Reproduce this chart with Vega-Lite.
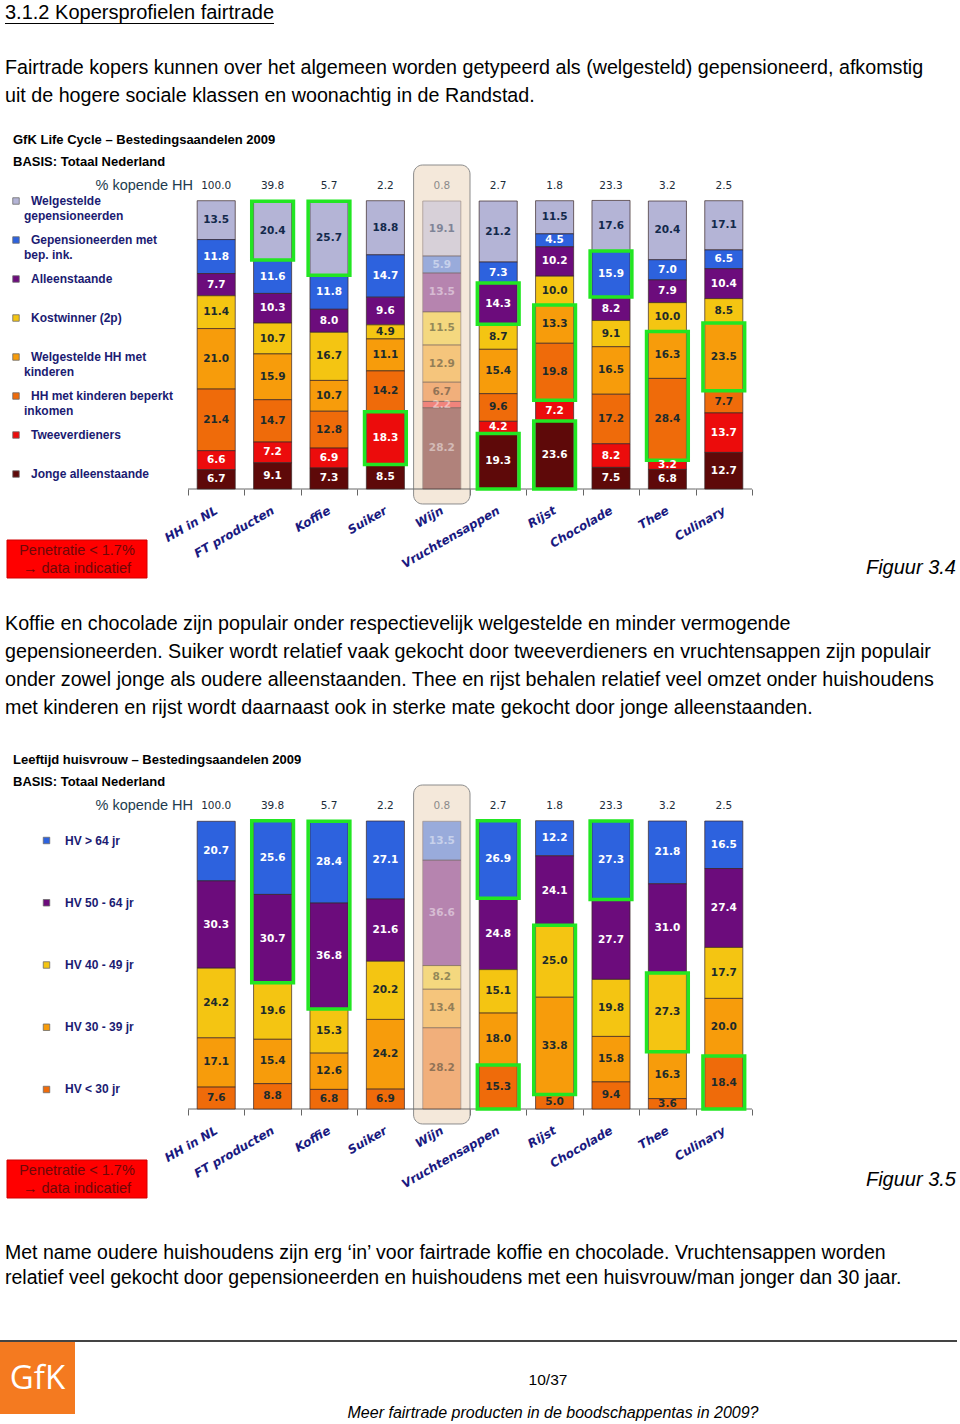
{
  "$schema": "https://vega.github.io/schema/vega-lite/v6.json",
  "padding": {"left": -4, "top": 0, "right": 0, "bottom": 0},
  "background": "#ffffff",
  "spacing": 0,
  "bounds": "flush",
  "config": {"view": {"stroke": null}},
  "resolve": {"scale": {"color": "independent", "x": "independent", "y": "independent"}},
  "datasets": {
    "prod": [
      {"product": "HH in NL", "pen": 100.0},
      {"product": "FT producten", "pen": 39.8},
      {"product": "Koffie", "pen": 5.7},
      {"product": "Suiker", "pen": 2.2},
      {"product": "Wijn", "pen": 0.8},
      {"product": "Vruchtensappen", "pen": 2.7},
      {"product": "Rijst", "pen": 1.8},
      {"product": "Chocolade", "pen": 23.3},
      {"product": "Thee", "pen": 3.2},
      {"product": "Culinary", "pen": 2.5}
    ],
    "leg1": [
      {"k": 1, "seg": "Welgestelde gepensioneerden", "l1": "Welgestelde", "l2": "gepensioneerden"},
      {"k": 2, "seg": "Gepensioneerden met bep. ink.", "l1": "Gepensioneerden met", "l2": "bep. ink."},
      {"k": 3, "seg": "Alleenstaande", "l1": "Alleenstaande", "l2": ""},
      {"k": 4, "seg": "Kostwinner (2p)", "l1": "Kostwinner (2p)", "l2": ""},
      {"k": 5, "seg": "Welgestelde HH met kinderen", "l1": "Welgestelde HH met", "l2": "kinderen"},
      {"k": 6, "seg": "HH met kinderen beperkt inkomen", "l1": "HH met kinderen beperkt", "l2": "inkomen"},
      {"k": 7, "seg": "Tweeverdieners", "l1": "Tweeverdieners", "l2": ""},
      {"k": 8, "seg": "Jonge alleenstaande", "l1": "Jonge alleenstaande", "l2": ""}
    ],
    "leg2": [
      {"k": 1, "seg": "HV > 64 jr"},
      {"k": 2, "seg": "HV 50 - 64 jr"},
      {"k": 3, "seg": "HV 40 - 49 jr"},
      {"k": 4, "seg": "HV 30 - 39 jr"},
      {"k": 5, "seg": "HV < 30 jr"}
    ],
    "lc": [
      {"product": "HH in NL", "k": 1, "seg": "Welgestelde gepensioneerden", "value": 13.5},
      {"product": "HH in NL", "k": 2, "seg": "Gepensioneerden met bep. ink.", "value": 11.8},
      {"product": "HH in NL", "k": 3, "seg": "Alleenstaande", "value": 7.7},
      {"product": "HH in NL", "k": 4, "seg": "Kostwinner (2p)", "value": 11.4},
      {"product": "HH in NL", "k": 5, "seg": "Welgestelde HH met kinderen", "value": 21.0},
      {"product": "HH in NL", "k": 6, "seg": "HH met kinderen beperkt inkomen", "value": 21.4},
      {"product": "HH in NL", "k": 7, "seg": "Tweeverdieners", "value": 6.6},
      {"product": "HH in NL", "k": 8, "seg": "Jonge alleenstaande", "value": 6.7},
      {"product": "FT producten", "k": 1, "seg": "Welgestelde gepensioneerden", "value": 20.4, "box": "a"},
      {"product": "FT producten", "k": 2, "seg": "Gepensioneerden met bep. ink.", "value": 11.6},
      {"product": "FT producten", "k": 3, "seg": "Alleenstaande", "value": 10.3},
      {"product": "FT producten", "k": 4, "seg": "Kostwinner (2p)", "value": 10.7},
      {"product": "FT producten", "k": 5, "seg": "Welgestelde HH met kinderen", "value": 15.9},
      {"product": "FT producten", "k": 6, "seg": "HH met kinderen beperkt inkomen", "value": 14.7},
      {"product": "FT producten", "k": 7, "seg": "Tweeverdieners", "value": 7.2},
      {"product": "FT producten", "k": 8, "seg": "Jonge alleenstaande", "value": 9.1},
      {"product": "Koffie", "k": 1, "seg": "Welgestelde gepensioneerden", "value": 25.7, "box": "a"},
      {"product": "Koffie", "k": 2, "seg": "Gepensioneerden met bep. ink.", "value": 11.8},
      {"product": "Koffie", "k": 3, "seg": "Alleenstaande", "value": 8.0},
      {"product": "Koffie", "k": 4, "seg": "Kostwinner (2p)", "value": 16.7},
      {"product": "Koffie", "k": 5, "seg": "Welgestelde HH met kinderen", "value": 10.7},
      {"product": "Koffie", "k": 6, "seg": "HH met kinderen beperkt inkomen", "value": 12.8},
      {"product": "Koffie", "k": 7, "seg": "Tweeverdieners", "value": 6.9},
      {"product": "Koffie", "k": 8, "seg": "Jonge alleenstaande", "value": 7.3},
      {"product": "Suiker", "k": 1, "seg": "Welgestelde gepensioneerden", "value": 18.8},
      {"product": "Suiker", "k": 2, "seg": "Gepensioneerden met bep. ink.", "value": 14.7},
      {"product": "Suiker", "k": 3, "seg": "Alleenstaande", "value": 9.6},
      {"product": "Suiker", "k": 4, "seg": "Kostwinner (2p)", "value": 4.9},
      {"product": "Suiker", "k": 5, "seg": "Welgestelde HH met kinderen", "value": 11.1},
      {"product": "Suiker", "k": 6, "seg": "HH met kinderen beperkt inkomen", "value": 14.2},
      {"product": "Suiker", "k": 7, "seg": "Tweeverdieners", "value": 18.3, "box": "a"},
      {"product": "Suiker", "k": 8, "seg": "Jonge alleenstaande", "value": 8.5},
      {"product": "Wijn", "k": 1, "seg": "Welgestelde gepensioneerden", "value": 19.1},
      {"product": "Wijn", "k": 2, "seg": "Gepensioneerden met bep. ink.", "value": 5.9},
      {"product": "Wijn", "k": 3, "seg": "Alleenstaande", "value": 13.5},
      {"product": "Wijn", "k": 4, "seg": "Kostwinner (2p)", "value": 11.5},
      {"product": "Wijn", "k": 5, "seg": "Welgestelde HH met kinderen", "value": 12.9},
      {"product": "Wijn", "k": 6, "seg": "HH met kinderen beperkt inkomen", "value": 6.7},
      {"product": "Wijn", "k": 7, "seg": "Tweeverdieners", "value": 2.2},
      {"product": "Wijn", "k": 8, "seg": "Jonge alleenstaande", "value": 28.2},
      {"product": "Vruchtensappen", "k": 1, "seg": "Welgestelde gepensioneerden", "value": 21.2},
      {"product": "Vruchtensappen", "k": 2, "seg": "Gepensioneerden met bep. ink.", "value": 7.3},
      {"product": "Vruchtensappen", "k": 3, "seg": "Alleenstaande", "value": 14.3, "box": "a"},
      {"product": "Vruchtensappen", "k": 4, "seg": "Kostwinner (2p)", "value": 8.7},
      {"product": "Vruchtensappen", "k": 5, "seg": "Welgestelde HH met kinderen", "value": 15.4},
      {"product": "Vruchtensappen", "k": 6, "seg": "HH met kinderen beperkt inkomen", "value": 9.6},
      {"product": "Vruchtensappen", "k": 7, "seg": "Tweeverdieners", "value": 4.2},
      {"product": "Vruchtensappen", "k": 8, "seg": "Jonge alleenstaande", "value": 19.3, "box": "b"},
      {"product": "Rijst", "k": 1, "seg": "Welgestelde gepensioneerden", "value": 11.5},
      {"product": "Rijst", "k": 2, "seg": "Gepensioneerden met bep. ink.", "value": 4.5},
      {"product": "Rijst", "k": 3, "seg": "Alleenstaande", "value": 10.2},
      {"product": "Rijst", "k": 4, "seg": "Kostwinner (2p)", "value": 10.0},
      {"product": "Rijst", "k": 5, "seg": "Welgestelde HH met kinderen", "value": 13.3, "box": "a"},
      {"product": "Rijst", "k": 6, "seg": "HH met kinderen beperkt inkomen", "value": 19.8, "box": "a"},
      {"product": "Rijst", "k": 7, "seg": "Tweeverdieners", "value": 7.2},
      {"product": "Rijst", "k": 8, "seg": "Jonge alleenstaande", "value": 23.6, "box": "b"},
      {"product": "Chocolade", "k": 1, "seg": "Welgestelde gepensioneerden", "value": 17.6},
      {"product": "Chocolade", "k": 2, "seg": "Gepensioneerden met bep. ink.", "value": 15.9, "box": "a"},
      {"product": "Chocolade", "k": 3, "seg": "Alleenstaande", "value": 8.2},
      {"product": "Chocolade", "k": 4, "seg": "Kostwinner (2p)", "value": 9.1},
      {"product": "Chocolade", "k": 5, "seg": "Welgestelde HH met kinderen", "value": 16.5},
      {"product": "Chocolade", "k": 6, "seg": "HH met kinderen beperkt inkomen", "value": 17.2},
      {"product": "Chocolade", "k": 7, "seg": "Tweeverdieners", "value": 8.2},
      {"product": "Chocolade", "k": 8, "seg": "Jonge alleenstaande", "value": 7.5},
      {"product": "Thee", "k": 1, "seg": "Welgestelde gepensioneerden", "value": 20.4},
      {"product": "Thee", "k": 2, "seg": "Gepensioneerden met bep. ink.", "value": 7.0},
      {"product": "Thee", "k": 3, "seg": "Alleenstaande", "value": 7.9},
      {"product": "Thee", "k": 4, "seg": "Kostwinner (2p)", "value": 10.0},
      {"product": "Thee", "k": 5, "seg": "Welgestelde HH met kinderen", "value": 16.3, "box": "a"},
      {"product": "Thee", "k": 6, "seg": "HH met kinderen beperkt inkomen", "value": 28.4, "box": "a"},
      {"product": "Thee", "k": 7, "seg": "Tweeverdieners", "value": 3.2},
      {"product": "Thee", "k": 8, "seg": "Jonge alleenstaande", "value": 6.8},
      {"product": "Culinary", "k": 1, "seg": "Welgestelde gepensioneerden", "value": 17.1},
      {"product": "Culinary", "k": 2, "seg": "Gepensioneerden met bep. ink.", "value": 6.5},
      {"product": "Culinary", "k": 3, "seg": "Alleenstaande", "value": 10.4},
      {"product": "Culinary", "k": 4, "seg": "Kostwinner (2p)", "value": 8.5},
      {"product": "Culinary", "k": 5, "seg": "Welgestelde HH met kinderen", "value": 23.5, "box": "a"},
      {"product": "Culinary", "k": 6, "seg": "HH met kinderen beperkt inkomen", "value": 7.7},
      {"product": "Culinary", "k": 7, "seg": "Tweeverdieners", "value": 13.7},
      {"product": "Culinary", "k": 8, "seg": "Jonge alleenstaande", "value": 12.7}
    ],
    "lh": [
      {"product": "HH in NL", "k": 1, "seg": "HV > 64 jr", "value": 20.7},
      {"product": "HH in NL", "k": 2, "seg": "HV 50 - 64 jr", "value": 30.3},
      {"product": "HH in NL", "k": 3, "seg": "HV 40 - 49 jr", "value": 24.2},
      {"product": "HH in NL", "k": 4, "seg": "HV 30 - 39 jr", "value": 17.1},
      {"product": "HH in NL", "k": 5, "seg": "HV < 30 jr", "value": 7.6},
      {"product": "FT producten", "k": 1, "seg": "HV > 64 jr", "value": 25.6, "box": "a"},
      {"product": "FT producten", "k": 2, "seg": "HV 50 - 64 jr", "value": 30.7, "box": "a"},
      {"product": "FT producten", "k": 3, "seg": "HV 40 - 49 jr", "value": 19.6},
      {"product": "FT producten", "k": 4, "seg": "HV 30 - 39 jr", "value": 15.4},
      {"product": "FT producten", "k": 5, "seg": "HV < 30 jr", "value": 8.8},
      {"product": "Koffie", "k": 1, "seg": "HV > 64 jr", "value": 28.4, "box": "a"},
      {"product": "Koffie", "k": 2, "seg": "HV 50 - 64 jr", "value": 36.8, "box": "a"},
      {"product": "Koffie", "k": 3, "seg": "HV 40 - 49 jr", "value": 15.3},
      {"product": "Koffie", "k": 4, "seg": "HV 30 - 39 jr", "value": 12.6},
      {"product": "Koffie", "k": 5, "seg": "HV < 30 jr", "value": 6.8},
      {"product": "Suiker", "k": 1, "seg": "HV > 64 jr", "value": 27.1},
      {"product": "Suiker", "k": 2, "seg": "HV 50 - 64 jr", "value": 21.6},
      {"product": "Suiker", "k": 3, "seg": "HV 40 - 49 jr", "value": 20.2},
      {"product": "Suiker", "k": 4, "seg": "HV 30 - 39 jr", "value": 24.2},
      {"product": "Suiker", "k": 5, "seg": "HV < 30 jr", "value": 6.9},
      {"product": "Wijn", "k": 1, "seg": "HV > 64 jr", "value": 13.5},
      {"product": "Wijn", "k": 2, "seg": "HV 50 - 64 jr", "value": 36.6},
      {"product": "Wijn", "k": 3, "seg": "HV 40 - 49 jr", "value": 8.2},
      {"product": "Wijn", "k": 4, "seg": "HV 30 - 39 jr", "value": 13.4},
      {"product": "Wijn", "k": 5, "seg": "HV < 30 jr", "value": 28.2},
      {"product": "Vruchtensappen", "k": 1, "seg": "HV > 64 jr", "value": 26.9, "box": "a"},
      {"product": "Vruchtensappen", "k": 2, "seg": "HV 50 - 64 jr", "value": 24.8},
      {"product": "Vruchtensappen", "k": 3, "seg": "HV 40 - 49 jr", "value": 15.1},
      {"product": "Vruchtensappen", "k": 4, "seg": "HV 30 - 39 jr", "value": 18.0},
      {"product": "Vruchtensappen", "k": 5, "seg": "HV < 30 jr", "value": 15.3, "box": "b"},
      {"product": "Rijst", "k": 1, "seg": "HV > 64 jr", "value": 12.2},
      {"product": "Rijst", "k": 2, "seg": "HV 50 - 64 jr", "value": 24.1},
      {"product": "Rijst", "k": 3, "seg": "HV 40 - 49 jr", "value": 25.0, "box": "a"},
      {"product": "Rijst", "k": 4, "seg": "HV 30 - 39 jr", "value": 33.8, "box": "a"},
      {"product": "Rijst", "k": 5, "seg": "HV < 30 jr", "value": 5.0},
      {"product": "Chocolade", "k": 1, "seg": "HV > 64 jr", "value": 27.3, "box": "a"},
      {"product": "Chocolade", "k": 2, "seg": "HV 50 - 64 jr", "value": 27.7},
      {"product": "Chocolade", "k": 3, "seg": "HV 40 - 49 jr", "value": 19.8},
      {"product": "Chocolade", "k": 4, "seg": "HV 30 - 39 jr", "value": 15.8},
      {"product": "Chocolade", "k": 5, "seg": "HV < 30 jr", "value": 9.4},
      {"product": "Thee", "k": 1, "seg": "HV > 64 jr", "value": 21.8},
      {"product": "Thee", "k": 2, "seg": "HV 50 - 64 jr", "value": 31.0},
      {"product": "Thee", "k": 3, "seg": "HV 40 - 49 jr", "value": 27.3, "box": "a"},
      {"product": "Thee", "k": 4, "seg": "HV 30 - 39 jr", "value": 16.3},
      {"product": "Thee", "k": 5, "seg": "HV < 30 jr", "value": 3.6},
      {"product": "Culinary", "k": 1, "seg": "HV > 64 jr", "value": 16.5},
      {"product": "Culinary", "k": 2, "seg": "HV 50 - 64 jr", "value": 27.4},
      {"product": "Culinary", "k": 3, "seg": "HV 40 - 49 jr", "value": 17.7},
      {"product": "Culinary", "k": 4, "seg": "HV 30 - 39 jr", "value": 20.0},
      {"product": "Culinary", "k": 5, "seg": "HV < 30 jr", "value": 18.4, "box": "a"}
    ]
  },
  "vconcat": [
    {
      "width": 960, "height": 201,
      "layer": [
        {"data": {"values": [{"t": "3.1.2 Kopersprofielen fairtrade"}]},
         "mark": {"type": "text", "align": "left", "baseline": "alphabetic", "font": "Liberation Sans", "fontSize": 20, "color": "#000000"},
         "encoding": {"text": {"field": "t"}, "x": {"value": 5}, "y": {"value": 19}}},
        {"data": {"values": [{}]},
         "mark": {"type": "rect", "fill": "#000000"},
         "encoding": {"x": {"value": 5}, "x2": {"value": 274}, "y": {"value": 23}, "y2": {"value": 24}}},
        {"data": {"values": [{"t": "Fairtrade kopers kunnen over het algemeen worden getypeerd als (welgesteld) gepensioneerd, afkomstig\nuit de hogere sociale klassen en woonachtig in de Randstad."}]},
         "mark": {"type": "text", "align": "left", "baseline": "alphabetic", "lineBreak": "\n", "lineHeight": 28, "font": "Liberation Sans", "fontSize": 19.7, "color": "#000000"},
         "encoding": {"text": {"field": "t"}, "x": {"value": 5}, "y": {"value": 74}}},
        {"data": {"values": [{"t": "GfK Life Cycle \u2013 Bestedingsaandelen 2009\nBASIS: Totaal Nederland"}]},
         "mark": {"type": "text", "align": "left", "baseline": "alphabetic", "lineBreak": "\n", "lineHeight": 22, "font": "Liberation Sans", "fontWeight": "bold", "fontSize": 13, "color": "#000000"},
         "encoding": {"text": {"field": "t"}, "x": {"value": 13}, "y": {"value": 143.6}}},
        {"data": {"values": [{"t": "% kopende HH"}]},
         "mark": {"type": "text", "align": "right", "baseline": "middle", "font": "Liberation Sans", "fontSize": 14.5, "color": "#223c4e"},
         "encoding": {"text": {"field": "t"}, "x": {"value": 193}, "y": {"value": 186}}}
      ]
    },
    {
      "width": 752, "height": 288,
      "encoding": {"x": {"field": "product", "type": "nominal",
                         "sort": ["HH in NL", "FT producten", "Koffie", "Suiker", "Wijn", "Vruchtensappen", "Rijst", "Chocolade", "Thee", "Culinary"],
                         "scale": {"paddingInner": 0, "paddingOuter": 0, "range": [188, 752]},
                         "axis": {"title": null, "domain": false, "tickColor": "#666666", "tickSize": 6, "tickBand": "extent",
                                  "labelAngle": -30, "labelAlign": "right", "labelBaseline": "middle", "labelPadding": 14,
                                  "labelFont": "DejaVu Sans", "labelFontSize": 12, "labelFontWeight": "bold", "labelFontStyle": "italic",
                                  "labelColor": "#1a1a80", "labelOverlap": false}}},
      "layer": [
        {"data": {"name": "prod"},
         "transform": [{"filter": "datum.pen < 1.7"}],
         "mark": {"type": "bar", "width": {"band": 1}, "cornerRadius": 9, "fill": "#f4e8da", "stroke": "#8c8c8c", "strokeWidth": 1},
         "encoding": {"y": {"datum": 112.5, "type": "quantitative", "scale": {"domain": [0, 100], "nice": false, "zero": false}, "axis": null}, "y2": {"datum": -5.2}}},
        {"data": {"name": "prod"},
         "mark": {"type": "rule", "color": "#666666", "strokeWidth": 1},
         "encoding": {"x": {"field": "product", "type": "nominal", "bandPosition": 0}, "x2": {"field": "product", "bandPosition": 1},
                      "y": {"datum": 0, "type": "quantitative", "scale": {"domain": [0, 100], "nice": false, "zero": false}, "axis": null}}},
        {"data": {"name": "lc"},
         "transform": [
           {"lookup": "product", "from": {"data": {"name": "prod"}, "key": "product", "fields": ["pen"]}},
           {"stack": "value", "groupby": ["product"], "sort": [{"field": "k", "order": "descending"}], "as": ["y0", "y1"]},
           {"calculate": "(datum.y0 + datum.y1) / 2", "as": "ym"}
         ],
         "layer": [
           {"mark": {"type": "bar", "width": {"band": 0.675}, "stroke": "#3a2626", "strokeWidth": 0.7},
            "encoding": {"y": {"field": "y0", "type": "quantitative", "scale": {"domain": [0, 100], "nice": false, "zero": false}, "axis": null}, "y2": {"field": "y1"},
                         "color": {"field": "seg", "type": "nominal", "legend": null,
                                   "scale": {"domain": ["Welgestelde gepensioneerden", "Gepensioneerden met bep. ink.", "Alleenstaande", "Kostwinner (2p)", "Welgestelde HH met kinderen", "HH met kinderen beperkt inkomen", "Tweeverdieners", "Jonge alleenstaande"],
                                             "range": ["#b4b4d6", "#2d62de", "#6c0c7c", "#f4c512", "#f79c0b", "#ef6b0a", "#ec0c0c", "#5e0909"]}},
                         "opacity": {"condition": {"test": "datum.pen < 1.7", "value": 0.45}, "value": 1}}},
           {"transform": [{"filter": "datum.box"}, {"aggregate": [{"op": "min", "field": "y0", "as": "lo"}, {"op": "max", "field": "y1", "as": "hi"}], "groupby": ["product", "box"]}],
            "mark": {"type": "bar", "width": {"band": 0.74}, "fillOpacity": 0, "stroke": "#22e622", "strokeWidth": 3.5},
            "encoding": {"y": {"field": "lo", "type": "quantitative", "axis": null}, "y2": {"field": "hi"}}},
           {"mark": {"type": "text", "baseline": "middle", "font": "DejaVu Sans", "fontWeight": "bold", "fontSize": 10.5},
            "encoding": {"y": {"field": "ym", "type": "quantitative", "axis": null},
                         "text": {"field": "value", "type": "quantitative", "format": ".1f"},
                         "color": {"field": "seg", "type": "nominal", "legend": null,
                                   "scale": {"domain": ["Welgestelde gepensioneerden", "Gepensioneerden met bep. ink.", "Alleenstaande", "Kostwinner (2p)", "Welgestelde HH met kinderen", "HH met kinderen beperkt inkomen", "Tweeverdieners", "Jonge alleenstaande"],
                                             "range": ["#13294b", "#ffffff", "#ffffff", "#1d2b2b", "#1d2b2b", "#1d2b2b", "#ffffff", "#ffffff"]}},
                         "opacity": {"condition": {"test": "datum.pen < 1.7", "value": 0.45}, "value": 1}}}
         ],
         "resolve": {"scale": {"color": "independent"}}},
        {"data": {"name": "prod"},
         "mark": {"type": "text", "baseline": "middle", "font": "DejaVu Sans", "fontSize": 10.5, "color": "#1c2b3a"},
         "encoding": {"y": {"datum": 105.2, "type": "quantitative", "scale": {"domain": [0, 100], "nice": false, "zero": false}, "axis": null},
                      "text": {"field": "pen", "type": "quantitative", "format": ".1f"},
                      "opacity": {"condition": {"test": "datum.pen < 1.7", "value": 0.5}, "value": 1}}},
        {"data": {"name": "leg1"},
         "encoding": {"y": {"field": "k", "type": "ordinal", "scale": {"type": "point", "padding": 0.1923, "align": 0}, "axis": null}},
         "layer": [
           {"mark": {"type": "square", "size": 42, "filled": true, "opacity": 1, "stroke": "#6b6b6b", "strokeWidth": 0.8},
            "encoding": {"x": {"value": 16},
                         "color": {"field": "seg", "type": "nominal", "legend": null,
                                   "scale": {"domain": ["Welgestelde gepensioneerden", "Gepensioneerden met bep. ink.", "Alleenstaande", "Kostwinner (2p)", "Welgestelde HH met kinderen", "HH met kinderen beperkt inkomen", "Tweeverdieners", "Jonge alleenstaande"],
                                             "range": ["#b4b4d6", "#2d62de", "#6c0c7c", "#f4c512", "#f79c0b", "#ef6b0a", "#ec0c0c", "#5e0909"]}}}},
           {"mark": {"type": "text", "align": "left", "baseline": "middle", "font": "Liberation Sans", "fontWeight": "bold", "fontSize": 12, "color": "#1b1b72"},
            "encoding": {"x": {"value": 31}, "text": {"field": "l1"}}},
           {"mark": {"type": "text", "align": "left", "baseline": "middle", "dy": 15, "font": "Liberation Sans", "fontWeight": "bold", "fontSize": 12, "color": "#1b1b72"},
            "encoding": {"x": {"value": 24}, "text": {"field": "l2"}}}
         ]}
      ],
      "resolve": {"scale": {"y": "independent", "color": "independent"}}
    },
    {
      "width": 960, "height": 332,
      "layer": [
        {"data": {"values": [{}]},
         "mark": {"type": "rect", "fill": "#ff0000", "stroke": "#d00000", "strokeWidth": 1},
         "encoding": {"x": {"value": 7}, "x2": {"value": 147}, "y": {"value": 51}, "y2": {"value": 89}}},
        {"data": {"values": [{"t": "Penetratie < 1.7%\n\u2192 data indicatief"}]},
         "mark": {"type": "text", "align": "center", "baseline": "alphabetic", "lineBreak": "\n", "lineHeight": 18, "font": "Liberation Sans", "fontSize": 14.5, "color": "#6e0808"},
         "encoding": {"text": {"field": "t"}, "x": {"value": 77}, "y": {"value": 66}}},
        {"data": {"values": [{"t": "Figuur 3.4"}]},
         "mark": {"type": "text", "align": "right", "baseline": "middle", "font": "Liberation Sans", "fontStyle": "italic", "fontSize": 20, "color": "#000000"},
         "encoding": {"text": {"field": "t"}, "x": {"value": 956}, "y": {"value": 79}}},
        {"data": {"values": [{"t": "Koffie en chocolade zijn populair onder respectievelijk welgestelde en minder vermogende\ngepensioneerden. Suiker wordt relatief vaak gekocht door tweeverdieners en vruchtensappen zijn populair\nonder zowel jonge als oudere alleenstaanden. Thee en rijst behalen relatief veel omzet onder huishoudens\nmet kinderen en rijst wordt daarnaast ook in sterke mate gekocht door jonge alleenstaanden."}]},
         "mark": {"type": "text", "align": "left", "baseline": "alphabetic", "lineBreak": "\n", "lineHeight": 28, "font": "Liberation Sans", "fontSize": 19.7, "color": "#000000"},
         "encoding": {"text": {"field": "t"}, "x": {"value": 5}, "y": {"value": 141}}},
        {"data": {"values": [{"t": "Leeftijd huisvrouw \u2013 Bestedingsaandelen 2009\nBASIS: Totaal Nederland"}]},
         "mark": {"type": "text", "align": "left", "baseline": "alphabetic", "lineBreak": "\n", "lineHeight": 22, "font": "Liberation Sans", "fontWeight": "bold", "fontSize": 13, "color": "#000000"},
         "encoding": {"text": {"field": "t"}, "x": {"value": 13}, "y": {"value": 274.6}}},
        {"data": {"values": [{"t": "% kopende HH"}]},
         "mark": {"type": "text", "align": "right", "baseline": "middle", "font": "Liberation Sans", "fontSize": 14.5, "color": "#223c4e"},
         "encoding": {"text": {"field": "t"}, "x": {"value": 193}, "y": {"value": 317}}}
      ]
    },
    {
      "width": 752, "height": 288,
      "encoding": {"x": {"field": "product", "type": "nominal",
                         "sort": ["HH in NL", "FT producten", "Koffie", "Suiker", "Wijn", "Vruchtensappen", "Rijst", "Chocolade", "Thee", "Culinary"],
                         "scale": {"paddingInner": 0, "paddingOuter": 0, "range": [188, 752]},
                         "axis": {"title": null, "domain": false, "tickColor": "#666666", "tickSize": 6, "tickBand": "extent",
                                  "labelAngle": -30, "labelAlign": "right", "labelBaseline": "middle", "labelPadding": 14,
                                  "labelFont": "DejaVu Sans", "labelFontSize": 12, "labelFontWeight": "bold", "labelFontStyle": "italic",
                                  "labelColor": "#1a1a80", "labelOverlap": false}}},
      "layer": [
        {"data": {"name": "prod"},
         "transform": [{"filter": "datum.pen < 1.7"}],
         "mark": {"type": "bar", "width": {"band": 1}, "cornerRadius": 9, "fill": "#f4e8da", "stroke": "#8c8c8c", "strokeWidth": 1},
         "encoding": {"y": {"datum": 112.5, "type": "quantitative", "scale": {"domain": [0, 100], "nice": false, "zero": false}, "axis": null}, "y2": {"datum": -5.2}}},
        {"data": {"name": "prod"},
         "mark": {"type": "rule", "color": "#666666", "strokeWidth": 1},
         "encoding": {"x": {"field": "product", "type": "nominal", "bandPosition": 0}, "x2": {"field": "product", "bandPosition": 1},
                      "y": {"datum": 0, "type": "quantitative", "scale": {"domain": [0, 100], "nice": false, "zero": false}, "axis": null}}},
        {"data": {"name": "lh"},
         "transform": [
           {"lookup": "product", "from": {"data": {"name": "prod"}, "key": "product", "fields": ["pen"]}},
           {"stack": "value", "groupby": ["product"], "sort": [{"field": "k", "order": "descending"}], "as": ["y0", "y1"]},
           {"calculate": "(datum.y0 + datum.y1) / 2", "as": "ym"}
         ],
         "layer": [
           {"mark": {"type": "bar", "width": {"band": 0.675}, "stroke": "#3a2626", "strokeWidth": 0.7},
            "encoding": {"y": {"field": "y0", "type": "quantitative", "scale": {"domain": [0, 100], "nice": false, "zero": false}, "axis": null}, "y2": {"field": "y1"},
                         "color": {"field": "seg", "type": "nominal", "legend": null,
                                   "scale": {"domain": ["HV > 64 jr", "HV 50 - 64 jr", "HV 40 - 49 jr", "HV 30 - 39 jr", "HV < 30 jr"],
                                             "range": ["#2d62de", "#6c0c7c", "#f4c512", "#f79c0b", "#ef6b0a"]}},
                         "opacity": {"condition": {"test": "datum.pen < 1.7", "value": 0.45}, "value": 1}}},
           {"transform": [{"filter": "datum.box"}, {"aggregate": [{"op": "min", "field": "y0", "as": "lo"}, {"op": "max", "field": "y1", "as": "hi"}], "groupby": ["product", "box"]}],
            "mark": {"type": "bar", "width": {"band": 0.74}, "fillOpacity": 0, "stroke": "#22e622", "strokeWidth": 3.5},
            "encoding": {"y": {"field": "lo", "type": "quantitative", "axis": null}, "y2": {"field": "hi"}}},
           {"mark": {"type": "text", "baseline": "middle", "font": "DejaVu Sans", "fontWeight": "bold", "fontSize": 10.5},
            "encoding": {"y": {"field": "ym", "type": "quantitative", "axis": null},
                         "text": {"field": "value", "type": "quantitative", "format": ".1f"},
                         "color": {"field": "seg", "type": "nominal", "legend": null,
                                   "scale": {"domain": ["HV > 64 jr", "HV 50 - 64 jr", "HV 40 - 49 jr", "HV 30 - 39 jr", "HV < 30 jr"],
                                             "range": ["#ffffff", "#ffffff", "#1d2b2b", "#1d2b2b", "#1d2b2b"]}},
                         "opacity": {"condition": {"test": "datum.pen < 1.7", "value": 0.45}, "value": 1}}}
         ],
         "resolve": {"scale": {"color": "independent"}}},
        {"data": {"name": "prod"},
         "mark": {"type": "text", "baseline": "middle", "font": "DejaVu Sans", "fontSize": 10.5, "color": "#1c2b3a"},
         "encoding": {"y": {"datum": 105.2, "type": "quantitative", "scale": {"domain": [0, 100], "nice": false, "zero": false}, "axis": null},
                      "text": {"field": "pen", "type": "quantitative", "format": ".1f"},
                      "opacity": {"condition": {"test": "datum.pen < 1.7", "value": 0.5}, "value": 1}}},
        {"data": {"name": "leg2"},
         "encoding": {"y": {"field": "k", "type": "ordinal", "scale": {"type": "point", "padding": 0.3133, "align": 0.5}, "axis": null}},
         "layer": [
           {"mark": {"type": "square", "size": 42, "filled": true, "opacity": 1, "stroke": "#6b6b6b", "strokeWidth": 0.8},
            "encoding": {"x": {"value": 46.5},
                         "color": {"field": "seg", "type": "nominal", "legend": null,
                                   "scale": {"domain": ["HV > 64 jr", "HV 50 - 64 jr", "HV 40 - 49 jr", "HV 30 - 39 jr", "HV < 30 jr"],
                                             "range": ["#2d62de", "#6c0c7c", "#f4c512", "#f79c0b", "#ef6b0a"]}}}},
           {"mark": {"type": "text", "align": "left", "baseline": "middle", "font": "Liberation Sans", "fontWeight": "bold", "fontSize": 12, "color": "#1b1b72"},
            "encoding": {"x": {"value": 65}, "text": {"field": "seg"}}}
         ]}
      ],
      "resolve": {"scale": {"y": "independent", "color": "independent"}}
    },
    {
      "width": 960, "height": 315,
      "layer": [
        {"data": {"values": [{}]},
         "mark": {"type": "rect", "fill": "#ff0000", "stroke": "#d00000", "strokeWidth": 1},
         "encoding": {"x": {"value": 7}, "x2": {"value": 147}, "y": {"value": 51}, "y2": {"value": 89}}},
        {"data": {"values": [{"t": "Penetratie < 1.7%\n\u2192 data indicatief"}]},
         "mark": {"type": "text", "align": "center", "baseline": "alphabetic", "lineBreak": "\n", "lineHeight": 18, "font": "Liberation Sans", "fontSize": 14.5, "color": "#6e0808"},
         "encoding": {"text": {"field": "t"}, "x": {"value": 77}, "y": {"value": 66}}},
        {"data": {"values": [{"t": "Figuur 3.5"}]},
         "mark": {"type": "text", "align": "right", "baseline": "middle", "font": "Liberation Sans", "fontStyle": "italic", "fontSize": 20, "color": "#000000"},
         "encoding": {"text": {"field": "t"}, "x": {"value": 956}, "y": {"value": 71}}},
        {"data": {"values": [{"t": "Met name oudere huishoudens zijn erg \u2018in\u2019 voor fairtrade koffie en chocolade. Vruchtensappen worden\nrelatief veel gekocht door gepensioneerden en huishoudens met een huisvrouw/man jonger dan 30 jaar."}]},
         "mark": {"type": "text", "align": "left", "baseline": "alphabetic", "lineBreak": "\n", "lineHeight": 25, "font": "Liberation Sans", "fontSize": 19.5, "color": "#000000"},
         "encoding": {"text": {"field": "t"}, "x": {"value": 5}, "y": {"value": 150}}},
        {"data": {"values": [{}]},
         "mark": {"type": "rect", "fill": "#444444"},
         "encoding": {"x": {"value": 0}, "x2": {"value": 957}, "y": {"value": 231}, "y2": {"value": 233}}},
        {"data": {"values": [{}]},
         "mark": {"type": "rect", "fill": "#f47a20"},
         "encoding": {"x": {"value": 0}, "x2": {"value": 75}, "y": {"value": 233}, "y2": {"value": 305}}},
        {"data": {"values": [{"t": "GfK"}]},
         "mark": {"type": "text", "align": "center", "baseline": "middle", "font": "Open Sans", "fontSize": 33, "color": "#ffffff"},
         "encoding": {"text": {"field": "t"}, "x": {"value": 37.5}, "y": {"value": 270}}},
        {"data": {"values": [{"t": "10/37"}]},
         "mark": {"type": "text", "align": "center", "baseline": "middle", "font": "Liberation Sans", "fontSize": 15.5, "color": "#000000"},
         "encoding": {"text": {"field": "t"}, "x": {"value": 548}, "y": {"value": 271}}},
        {"data": {"values": [{"t": "Meer fairtrade producten in de boodschappentas in 2009?"}]},
         "mark": {"type": "text", "align": "center", "baseline": "middle", "font": "Liberation Sans", "fontStyle": "italic", "fontSize": 16, "color": "#000000"},
         "encoding": {"text": {"field": "t"}, "x": {"value": 553}, "y": {"value": 304}}}
      ]
    }
  ]
}
